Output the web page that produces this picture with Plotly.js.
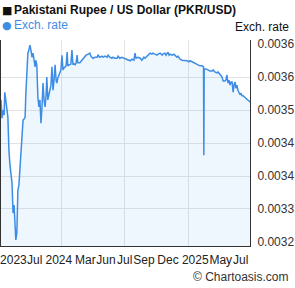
<!DOCTYPE html>
<html>
<head>
<meta charset="utf-8">
<script src="https://cdn.plot.ly/plotly-3.0.1.min.js"></script>
<style>html,body{margin:0;padding:0;background:#fff;}#chart{width:295px;height:288px;}</style>
</head>
<body>
<div id="chart"></div>
<script>
// PKR/USD exchange rate
const dates = [
"2023-07-08","2023-07-11","2023-07-14","2023-07-17","2023-07-19","2023-07-22","2023-07-25","2023-07-28","2023-07-31","2023-08-03",
"2023-08-09","2023-08-12","2023-08-15","2023-08-17","2023-08-20","2023-08-23","2023-08-26","2023-08-29","2023-09-01","2023-09-04",
"2023-09-07","2023-09-10","2023-09-13","2023-09-16","2023-09-18","2023-09-21","2023-09-24","2023-09-27","2023-09-30","2023-10-03",
"2023-10-06","2023-10-09","2023-10-12","2023-10-15","2023-10-17","2023-10-20","2023-10-23","2023-10-26","2023-10-29","2023-11-01",
"2023-11-04","2023-11-07","2023-11-10","2023-11-13","2023-11-16","2023-11-18","2023-11-21","2023-11-24","2023-11-27","2023-11-30",
"2023-12-03","2023-12-06","2023-12-09","2023-12-12","2023-12-15","2023-12-17","2023-12-20","2023-12-23","2023-12-26","2023-12-29",
"2024-01-01","2024-01-04","2024-01-07","2024-01-10","2024-01-13","2024-01-16","2024-01-18","2024-01-21","2024-01-24","2024-01-27",
"2024-01-30","2024-02-02","2024-02-05","2024-02-08","2024-02-11","2024-02-14","2024-02-16","2024-02-22","2024-02-28","2024-03-05",
"2024-03-11","2024-03-17","2024-03-22","2024-03-25","2024-03-31","2024-04-06","2024-04-12","2024-04-15","2024-04-20","2024-04-26",
"2024-04-29","2024-05-05","2024-05-11","2024-05-14","2024-05-19","2024-05-25","2024-05-28","2024-06-03","2024-06-09","2024-06-12",
"2024-06-17","2024-06-23","2024-06-29","2024-07-05","2024-07-11","2024-07-17","2024-07-22","2024-07-28","2024-07-31","2024-08-03",
"2024-08-09","2024-08-15","2024-08-20","2024-08-26","2024-08-29","2024-09-04","2024-09-10","2024-09-13","2024-09-18","2024-09-21",
"2024-09-27","2024-10-03","2024-10-06","2024-10-12","2024-10-18","2024-10-20","2024-10-26","2024-10-29","2024-11-04","2024-11-07",
"2024-11-10","2024-11-16","2024-11-21","2024-11-24","2024-11-30","2024-12-03","2024-12-09","2024-12-15","2024-12-20","2024-12-26",
"2024-12-29","2025-01-04","2025-01-07","2025-01-13","2025-01-18","2025-01-21","2025-01-27","2025-01-30","2025-02-05","2025-02-11",
"2025-02-15","2025-02-16","2025-02-17","2025-02-22","2025-02-28","2025-03-06","2025-03-12","2025-03-15","2025-03-20","2025-03-26",
"2025-03-29","2025-04-04","2025-04-10","2025-04-13","2025-04-18","2025-04-21","2025-04-24","2025-04-27","2025-04-30","2025-05-03",
"2025-05-06","2025-05-09","2025-05-12","2025-05-15","2025-05-18","2025-05-20","2025-05-23","2025-05-26","2025-05-29","2025-06-01",
"2025-06-04","2025-06-07","2025-06-10","2025-06-16","2025-06-21","2025-06-27","2025-06-30"
];
const rates = [
0.003525,0.003489,0.003505,0.003495,0.003540,0.003525,0.003511,0.003491,0.003426,0.003397,
0.003361,0.003302,0.003318,0.003282,0.003249,0.003263,0.003347,0.003357,0.003393,0.003426,
0.003440,0.003485,0.003487,0.003491,0.003535,0.003570,0.003617,0.003623,0.003633,0.003623,
0.003609,0.003617,0.003600,0.003590,0.003603,0.003594,0.003531,0.003511,0.003525,0.003479,
0.003511,0.003558,0.003525,0.003511,0.003535,0.003570,0.003525,0.003535,0.003538,0.003554,
0.003590,0.003544,0.003564,0.003594,0.003564,0.003558,0.003568,0.003574,0.003578,0.003584,
0.003613,0.003584,0.003588,0.003590,0.003592,0.003619,0.003592,0.003594,0.003594,0.003596,
0.003623,0.003594,0.003596,0.003594,0.003598,0.003613,0.003598,0.003598,0.003603,0.003609,
0.003613,0.003615,0.003617,0.003611,0.003607,0.003609,0.003609,0.003613,0.003609,0.003611,
0.003609,0.003611,0.003609,0.003613,0.003609,0.003607,0.003609,0.003607,0.003607,0.003611,
0.003607,0.003609,0.003607,0.003605,0.003603,0.003602,0.003605,0.003603,0.003617,0.003607,
0.003609,0.003607,0.003603,0.003609,0.003607,0.003611,0.003613,0.003617,0.003615,0.003617,
0.003615,0.003613,0.003615,0.003617,0.003613,0.003615,0.003617,0.003613,0.003619,0.003613,
0.003615,0.003613,0.003615,0.003613,0.003609,0.003611,0.003605,0.003603,0.003603,0.003602,
0.003602,0.003600,0.003602,0.003600,0.003598,0.003596,0.003594,0.003594,0.003592,0.003592,
0.003590,0.003416,0.003586,0.003586,0.003584,0.003582,0.003582,0.003584,0.003580,0.003578,
0.003580,0.003574,0.003570,0.003562,0.003562,0.003564,0.003574,0.003558,0.003564,0.003554,
0.003560,0.003560,0.003540,0.003556,0.003560,0.003548,0.003554,0.003544,0.003540,0.003535,
0.003538,0.003533,0.003533,0.003529,0.003527,0.003523,0.003521
];
const xTickDates = ["2023-08-13","2023-10-14","2023-12-23","2024-03-09","2024-05-08","2024-07-01","2024-08-26","2024-11-04","2025-01-22","2025-04-06","2025-06-03"];
const xTickLabels = ["2023","Jul","2024","Mar","Jun","Jul","Sep","Dec","2025","May","Jul"];
const xGridDates = ["2024-01-01","2024-07-01","2025-01-01"];
const yTickVals = [0.003245,0.00331,0.003375,0.00344,0.003505,0.00357,0.003635];
const yGridVals = [0.00331,0.003375,0.00344,0.003505,0.00357];
const seriesName = "Exch. rate";
const chartTitle = "Pakistani Rupee / US Dollar (PKR/USD)";

const FONT = "'Liberation Sans', Arial, sans-serif";
const trace = {
  x: dates, y: rates, type: "scatter", mode: "lines", name: seriesName,
  line: {color: "#3d8de6", width: 1.5},
  fill: "tozeroy", fillcolor: "rgba(66,150,240,0.09)",
  hoverinfo: "x+y"
};
const layout = {
  width: 295, height: 288,
  margin: {l: 1, r: 45, t: 40, b: 42, pad: 0},
  paper_bgcolor: "#fff", plot_bgcolor: "#fff",
  showlegend: false,
  font: {family: FONT, size: 12, color: "#222"},
  xaxis: {
    type: "date", range: ["2023-07-08", "2025-06-30"],
    tickmode: "array", tickvals: xTickDates, ticktext: xTickLabels, tickangle: 0,
    ticklabeloverflow: "allow",
    showgrid: false, zeroline: false, ticks: "",
    showline: true, linecolor: "#333", linewidth: 1, mirror: false,
    tickfont: {family: FONT, size: 12, color: "#222"},
    ticklabelstandoff: 3,
    minor: {tickmode: "array", tickvals: xGridDates, showgrid: true, gridcolor: "#e3e3e3", gridwidth: 1, ticks: ""},
    fixedrange: true
  },
  yaxis: {
    side: "right", range: [0.0032371, 0.0036429],
    tickmode: "array", tickvals: yTickVals, tickformat: ".4f",
    ticklabeloverflow: "allow",
    showgrid: false, zeroline: false, ticks: "",
    showline: true, linecolor: "#333", linewidth: 1, mirror: true,
    tickfont: {family: FONT, size: 12, color: "#333"},
    ticklabelstandoff: 4,
    minor: {tickmode: "array", tickvals: yGridVals, showgrid: true, gridcolor: "#e3e3e3", gridwidth: 1, ticks: ""},
    fixedrange: true
  },
  annotations: [
    {xref: "paper", yref: "paper", x: -0.004, y: 1.1456, xanchor: "left", yanchor: "middle", showarrow: false,
     text: "■", font: {family: "DejaVu Sans", size: 11, color: "#111"}},
    {xref: "paper", yref: "paper", x: 0.044, y: 1.1456, xanchor: "left", yanchor: "middle", showarrow: false,
     text: "<b>" + chartTitle + "</b>", font: {family: FONT, size: 12, color: "#111"}},
    {xref: "paper", yref: "paper", x: -0.004, y: 1.0728, xanchor: "left", yanchor: "middle", showarrow: false,
     text: "●", font: {family: "DejaVu Sans", size: 11, color: "#3d8de6"}},
    {xref: "paper", yref: "paper", x: 0.044, y: 1.0728, xanchor: "left", yanchor: "middle", showarrow: false,
     text: seriesName, font: {family: FONT, size: 12, color: "#3d8de6"}},
    {xref: "paper", yref: "paper", x: 1.165, y: 1.063, xanchor: "right", yanchor: "middle", showarrow: false,
     text: seriesName, font: {family: FONT, size: 12, color: "#111"}},
    {xref: "paper", yref: "paper", x: 1.165, y: -0.15, xanchor: "right", yanchor: "middle", showarrow: false,
     text: "© Chartoasis.com", font: {family: FONT, size: 12, color: "#333"}}
  ]
};
Plotly.newPlot("chart", [trace], layout, {displayModeBar: false, staticPlot: true});
</script>
</body>
</html>
